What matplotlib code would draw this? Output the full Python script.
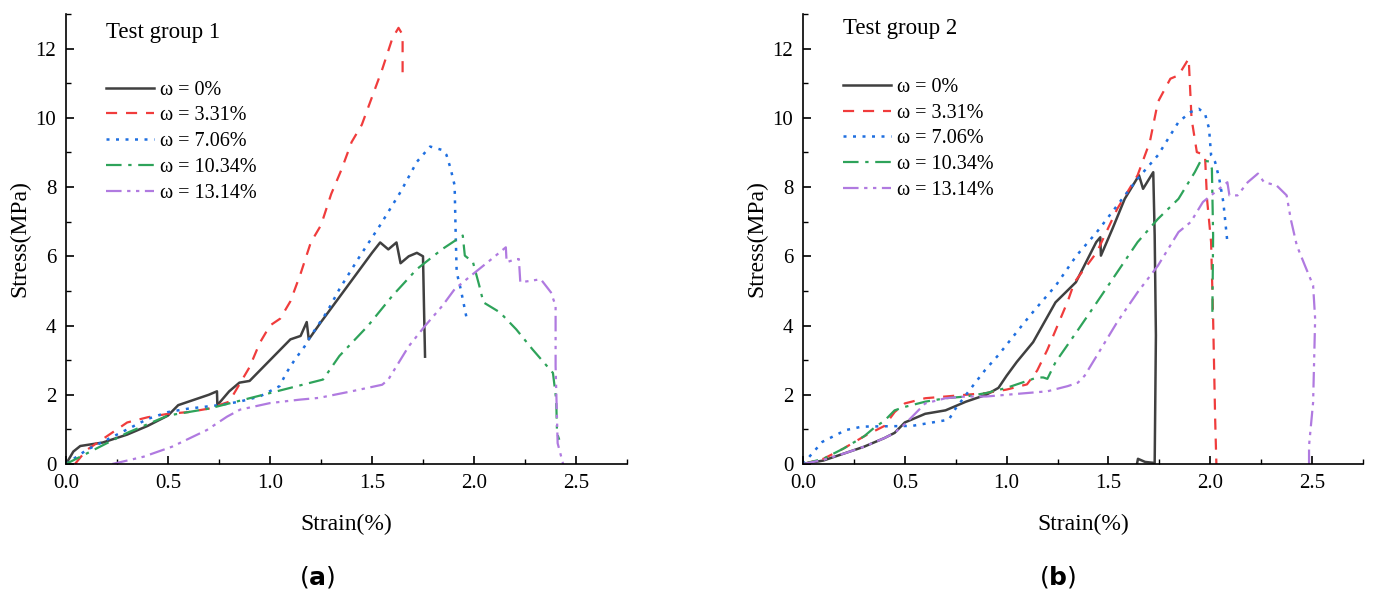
import numpy as np
import matplotlib
matplotlib.use('Agg')
import matplotlib.pyplot as plt
from matplotlib.ticker import MultipleLocator

plt.rcParams['font.family'] = ['Liberation Serif', 'DejaVu Serif']
plt.rcParams['mathtext.fontset'] = 'dejavusans'

labels = ['ω = 0%', 'ω = 3.31%', 'ω = 7.06%', 'ω = 10.34%', 'ω = 13.14%']

# ---- test group 1 (strain %, stress MPa) ----
a_strain_0 = [0.0, 0.02, 0.036, 0.07, 0.18, 0.3, 0.4, 0.5, 0.55, 0.6, 0.7, 0.74, 0.742, 0.8, 0.85,
              0.9, 1.0, 1.1, 1.15, 1.18, 1.19, 1.25, 1.3, 1.35, 1.4, 1.5, 1.54, 1.58, 1.62, 1.64,
              1.68, 1.72, 1.75, 1.755, 1.76]
a_stress_0 = [0.0, 0.2, 0.36, 0.52, 0.62, 0.85, 1.1, 1.4, 1.7, 1.8, 2.0, 2.1, 1.7, 2.1, 2.35,
              2.4, 3.0, 3.6, 3.7, 4.1, 3.6, 4.1, 4.5, 4.9, 5.3, 6.1, 6.4, 6.2, 6.4, 5.8,
              6.0, 6.1, 6.0, 4.5, 3.1]
a_strain_1 = [0.044, 0.1, 0.2, 0.3, 0.4, 0.5, 0.6, 0.7, 0.75, 0.8, 0.85, 0.9, 0.95, 1.0, 1.05,
              1.1, 1.15, 1.2, 1.25, 1.3, 1.35, 1.4, 1.45, 1.5, 1.55, 1.6, 1.63, 1.65, 1.65]
a_stress_1 = [0.0, 0.4, 0.8, 1.2, 1.35, 1.45, 1.5, 1.6, 1.7, 1.8, 2.3, 2.8, 3.5, 4.0, 4.2,
              4.7, 5.5, 6.4, 6.9, 7.8, 8.5, 9.3, 9.8, 10.6, 11.4, 12.3, 12.6, 12.4, 11.2]
a_strain_2 = [0.0, 0.1, 0.2, 0.3, 0.4, 0.5, 0.6, 0.75, 0.85, 0.95, 1.047, 1.08, 1.12, 1.17, 1.2,
              1.28, 1.34, 1.44, 1.54, 1.64, 1.72, 1.785, 1.845, 1.865, 1.885, 1.905, 1.91,
              1.915, 1.935, 1.965]
a_stress_2 = [0.0, 0.4, 0.7, 1.0, 1.3, 1.5, 1.6, 1.7, 1.8, 1.95, 2.25, 2.63, 3.0, 3.4, 3.7,
              4.4, 5.05, 6.0, 6.9, 7.86, 8.73, 9.17, 9.07, 8.93, 8.54, 8.05, 6.7,
              5.54, 5.05, 4.18]
a_strain_3 = [0.0, 0.1, 0.2, 0.3, 0.4, 0.5, 0.6, 0.7, 0.8, 0.9, 1.0, 1.1, 1.2, 1.26, 1.34,
              1.48, 1.6, 1.72, 1.845, 1.945, 1.955, 1.995, 2.026, 2.046, 2.127, 2.207, 2.287,
              2.387, 2.403, 2.407, 2.418]
a_stress_3 = [0.0, 0.3, 0.6, 0.9, 1.15, 1.4, 1.5, 1.6, 1.75, 1.9, 2.05, 2.2, 2.35, 2.44, 3.12,
              3.99, 4.86, 5.63, 6.21, 6.6, 6.02, 5.83, 5.15, 4.67, 4.38, 3.89, 3.31,
              2.63, 1.86, 0.89, 0.7]
a_strain_4 = [0.227, 0.38, 0.52, 0.69, 0.79, 0.853, 1.0, 1.147, 1.24, 1.4, 1.55, 1.58, 1.68,
              1.76, 1.845, 1.905, 1.985, 2.086, 2.156, 2.16, 2.207, 2.22, 2.227, 2.287, 2.327,
              2.377, 2.4, 2.4, 2.41, 2.437]
a_stress_4 = [0.0, 0.21, 0.5, 0.98, 1.37, 1.57, 1.76, 1.86, 1.91, 2.1, 2.29, 2.44, 3.4,
              3.99, 4.57, 5.05, 5.44, 5.92, 6.26, 5.83, 5.92, 5.92, 5.25, 5.3, 5.34,
              4.96, 4.57, 2.83, 0.6, 0.0]

# ---- test group 2 ----
b_strain_0 = [0.0, 0.1, 0.2, 0.3, 0.4, 0.45, 0.5, 0.6, 0.7, 0.8, 0.9, 0.96, 1.0, 1.05, 1.13,
              1.24, 1.34, 1.44, 1.46, 1.463, 1.52, 1.58, 1.65, 1.67, 1.72, 1.727, 1.733,
              1.727, 1.68, 1.645, 1.64]
b_stress_0 = [0.0, 0.1, 0.3, 0.5, 0.75, 0.9, 1.2, 1.45, 1.55, 1.8, 2.0, 2.2, 2.55, 2.95, 3.52,
              4.67, 5.25, 6.41, 6.55, 6.02, 6.8, 7.66, 8.34, 7.95, 8.43, 6.6, 3.71,
              0.03, 0.06, 0.15, 0.0]
b_strain_1 = [0.0, 0.1, 0.2, 0.3, 0.4, 0.45, 0.5, 0.6, 0.7, 0.8, 0.9, 1.0, 1.1, 1.15, 1.2,
              1.25, 1.3, 1.333, 1.443, 1.543, 1.643, 1.703, 1.743, 1.804, 1.844, 1.894,
              1.908, 1.934, 1.974, 1.984, 2.004, 2.014, 2.024, 2.03]
b_stress_1 = [0.0, 0.15, 0.45, 0.8, 1.1, 1.5, 1.75, 1.9, 1.95, 2.0, 2.05, 2.15, 2.3, 2.7, 3.3,
              4.0, 4.7, 5.25, 6.12, 7.37, 8.34, 9.3, 10.46, 11.13, 11.23, 11.71,
              9.98, 9.01, 8.92, 7.66, 6.41, 4.19, 1.3, 0.0]
b_strain_2 = [0.0, 0.095, 0.21, 0.29, 0.535, 0.716, 0.749, 0.82, 0.895, 0.96, 1.025, 1.09,
              1.142, 1.242, 1.343, 1.443, 1.543, 1.643, 1.743, 1.844, 1.904, 1.944, 1.974,
              1.994, 2.004, 2.024, 2.044, 2.064, 2.084]
b_stress_2 = [0.0, 0.64, 0.98, 1.08, 1.1, 1.28, 1.6, 2.15, 2.72, 3.15, 3.63, 4.11,
              4.48, 5.16, 6.02, 6.7, 7.47, 8.24, 8.92, 9.88, 10.17, 10.26, 10.12,
              9.69, 8.92, 8.72, 8.24, 7.57, 6.41]
b_strain_3 = [0.0, 0.1, 0.2, 0.3, 0.35, 0.4, 0.45, 0.5, 0.6, 0.7, 0.8, 0.9, 1.0, 1.1, 1.15,
              1.18, 1.2, 1.24, 1.343, 1.443, 1.543, 1.643, 1.743, 1.844, 1.924, 1.954, 1.994,
              2.008, 2.014, 2.01]
b_stress_3 = [0.0, 0.15, 0.45, 0.8, 1.05, 1.25, 1.55, 1.65, 1.8, 1.9, 1.95, 2.05, 2.2, 2.4, 2.5,
              2.5, 2.46, 2.94, 3.81, 4.67, 5.54, 6.41, 7.08, 7.66, 8.43, 8.77, 8.74,
              8.53, 6.6, 4.19]
b_strain_4 = [0.0, 0.1, 0.2, 0.3, 0.4, 0.45, 0.5, 0.55, 0.6, 0.7, 0.8, 0.9, 1.0, 1.1, 1.2, 1.3,
              1.35, 1.383, 1.443, 1.543, 1.643, 1.743, 1.844, 1.904, 1.964, 2.044, 2.084,
              2.094, 2.134, 2.184, 2.234, 2.264, 2.325, 2.375, 2.395, 2.425, 2.465, 2.505,
              2.515, 2.505, 2.485, 2.485]
b_stress_4 = [0.0, 0.12, 0.3, 0.5, 0.75, 0.9, 1.15, 1.45, 1.75, 1.9, 1.95, 1.95, 2.0, 2.05, 2.1,
              2.25, 2.35, 2.55, 3.13, 4.1, 4.96, 5.73, 6.7, 6.99, 7.57, 7.95, 8.14,
              7.76, 7.76, 8.14, 8.39, 8.14, 8.05, 7.76, 7.08, 6.31, 5.73, 5.16,
              4.19, 1.78, 0.53, 0.0]

colors = ['#404040', '#f03c3c', '#1f6fe0', '#2ea35a', '#b07ae0']
dashes = [None, (5, 4), (1.2, 2.6), (7, 3, 1.5, 3), (7, 2.5, 1.5, 2.5, 1.5, 2.5)]
widths = [1.8, 1.6, 1.8, 1.6, 1.6]

group_a = [(a_strain_0, a_stress_0), (a_strain_1, a_stress_1), (a_strain_2, a_stress_2),
           (a_strain_3, a_stress_3), (a_strain_4, a_stress_4)]
group_b = [(b_strain_0, b_stress_0), (b_strain_1, b_stress_1), (b_strain_2, b_stress_2),
           (b_strain_3, b_stress_3), (b_strain_4, b_stress_4)]

fig = plt.figure(figsize=(13.75, 5.9), dpi=100)
ax1 = fig.add_axes([66/1375, 1-464/590, 561/1375, 450/590])
ax2 = fig.add_axes([803/1375, 1-464/590, 560/1375, 450/590])

for ax, group, title, title_y, legend_y in [(ax1, group_a, 'Test group 1', 0.958, 0.852),
                                             (ax2, group_b, 'Test group 2', 0.967, 0.858)]:
    for (x, y), c, d, w, lab in zip(group, colors, dashes, widths, labels):
        line, = ax.plot(x, y, color=c, lw=w, label=lab)
        if d is not None:
            line.set_dashes(d)
    ax.set_xlim(0, 2.75)
    ax.set_ylim(0, 13)
    ax.xaxis.set_major_locator(MultipleLocator(0.5))
    ax.xaxis.set_minor_locator(MultipleLocator(0.25))
    ax.yaxis.set_major_locator(MultipleLocator(2))
    ax.yaxis.set_minor_locator(MultipleLocator(1))
    ax.xaxis.set_major_formatter(plt.FormatStrFormatter('%.1f'))
    ax.spines['top'].set_visible(False)
    ax.spines['right'].set_visible(False)
    for s in ['left', 'bottom']:
        ax.spines[s].set_linewidth(1.2)
    ax.tick_params(which='major', direction='in', length=6, width=1.2, labelsize=15, pad=7)
    ax.tick_params(which='minor', direction='in', length=3.5, width=1.0)
    ax.set_xlabel('Strain(%)', fontsize=17, labelpad=15)
    ax.set_ylabel('Stress(MPa)', fontsize=17, labelpad=4)
    ax.text(0.071, title_y, title, transform=ax.transAxes, fontsize=16.5,
            ha='left', va='center')
    ax.legend(loc='upper left', bbox_to_anchor=(0.071, legend_y), frameon=False,
              borderpad=0, borderaxespad=0, fontsize=14.5, handlelength=2.4,
              handletextpad=0.3, labelspacing=0.33)

fig.text(317/1375, 1-577/590, r'($\mathbf{a}$)', fontsize=18, ha='center', va='center',
         family='DejaVu Sans')
fig.text(1058/1375, 1-577/590, r'($\mathbf{b}$)', fontsize=18, ha='center', va='center',
         family='DejaVu Sans')

plt.savefig('out.png', dpi=100)
